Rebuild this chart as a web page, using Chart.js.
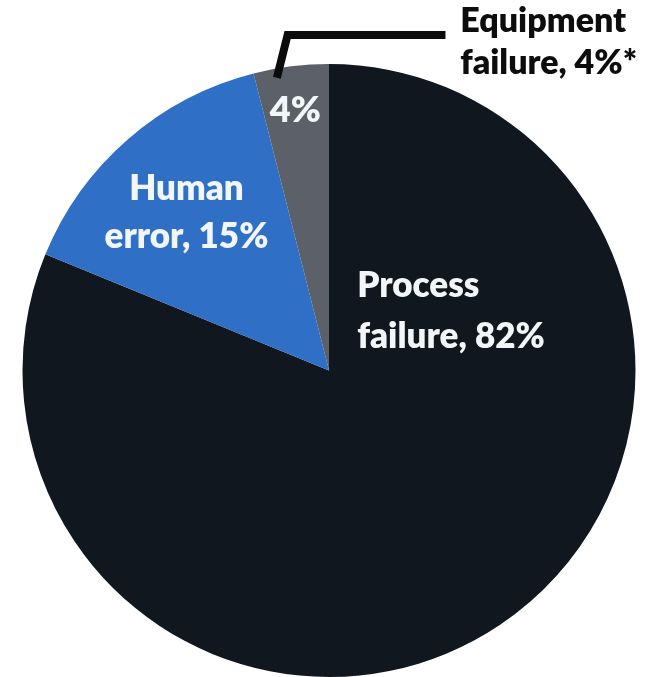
<!DOCTYPE html>
<html>
<head>
<meta charset="utf-8">
<script src="https://cdn.jsdelivr.net/npm/chart.js@4/dist/chart.umd.min.js"></script>
<style>
  html, body { margin: 0; padding: 0; background: #ffffff; }
  #wrap { width: 649px; height: 677px; position: relative; }
</style>
</head>
<body>
<div id="wrap"><canvas id="c" width="649" height="677"></canvas></div>
<script>
const categories = ["Process failure", "Human error", "Equipment failure"];
const values = [82, 15, 4];
const sliceLabels = [["Process", "failure, 82%"], ["Human", "error, 15%"], ["4%"]];
const calloutLabel = ["Equipment", "failure, 4%*"];
const colors = ["#11171f", "#2f6fc6", "#5c6169"];

const FONT = "Lato";

const labelPlugin = {
  id: "pieLabels",
  afterDatasetsDraw(chart) {
    const ctx = chart.ctx;
    const arcs = chart.getDatasetMeta(0).data;
    const cx = arcs[0].x, cy = arcs[0].y, r = arcs[0].outerRadius;
    ctx.save();
    ctx.textBaseline = "alphabetic";
    // Process label (left-aligned)
    ctx.fillStyle = "#f3f6f9";
    ctx.font = "800 35px " + FONT;
    ctx.textAlign = "left";
    ctx.fillText(sliceLabels[0][0], cx + 0.092 * r, cy - 0.24 * r);
    ctx.fillText(sliceLabels[0][1], cx + 0.092 * r, cy - 0.075 * r);
    // Human label (centered)
    ctx.textAlign = "center";
    ctx.fillText(sliceLabels[1][0], cx - 0.465 * r, cy - 0.555 * r);
    ctx.fillText(sliceLabels[1][1], cx - 0.465 * r, cy - 0.40 * r);
    // Equipment inner label
    ctx.font = "800 36px " + FONT;
    ctx.fillText(sliceLabels[2][0], cx - 0.11 * r, cy - 0.81 * r);
    // Leader line
    ctx.strokeStyle = "#0b0b0b";
    ctx.lineWidth = 8;
    ctx.lineJoin = "miter";
    ctx.beginPath();
    ctx.moveTo(cx - 0.17 * r, cy - 0.955 * r);
    ctx.lineTo(cx - 0.135 * r, cy - 1.095 * r);
    ctx.lineTo(cx + 0.38 * r, cy - 1.095 * r);
    ctx.stroke();
    // Callout text
    ctx.fillStyle = "#0d0d0d";
    ctx.textAlign = "left";
    ctx.font = "800 34px " + FONT;
    ctx.fillText(calloutLabel[0], cx + 0.428 * r, cy - 1.105 * r);
    ctx.fillText(calloutLabel[1], cx + 0.428 * r, cy - 0.968 * r);
    ctx.restore();
  }
};

new Chart(document.getElementById("c"), {
  type: "pie",
  data: {
    labels: categories,
    datasets: [{
      data: values,
      backgroundColor: colors,
      borderWidth: 0
    }]
  },
  options: {
    responsive: false,
    animation: false,
    layout: { padding: { top: 64, bottom: 0, left: 22, right: 13 } },
    plugins: {
      legend: { display: false },
      tooltip: { enabled: false },
      title: { display: false }
    }
  },
  plugins: [labelPlugin]
});
</script>
</body>
</html>
